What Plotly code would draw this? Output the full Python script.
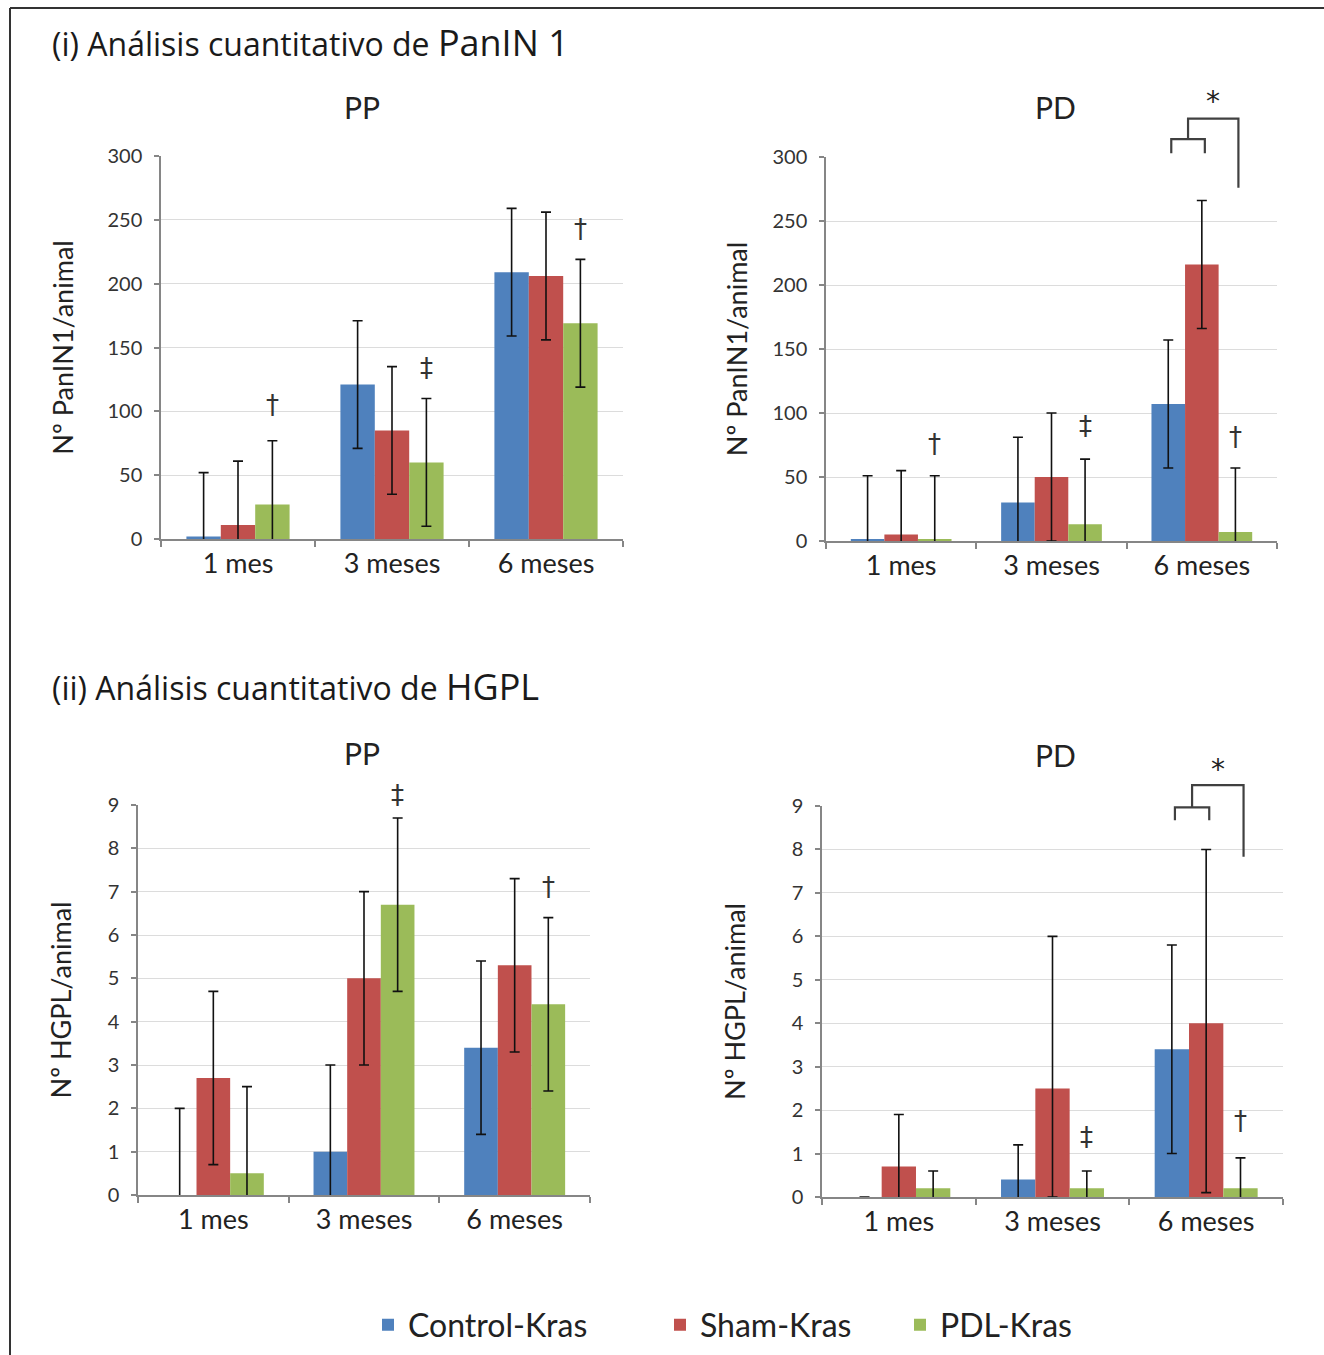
import plotly.graph_objects as go

W, H = 1324, 1355

categories = ["1 mes", "3 meses", "6 meses"]
series_names = ["Control-Kras", "Sham-Kras", "PDL-Kras"]
colors = ["#4F81BD", "#C0504D", "#9BBB59"]

# (i) PanIN 1 - PP
panin_pp = [[2, 121, 209], [11, 85, 206], [27, 60, 169]]
panin_pp_err = [[50, 50, 50], [50, 50, 50], [50, 50, 50]]
panin_pp_errm = [[50, 50, 50], [50, 50, 50], [50, 50, 50]]
# (i) PanIN 1 - PD
panin_pd = [[1, 30, 107], [5, 50, 216], [1, 13, 7]]
panin_pd_err = [[50, 51, 50], [50, 50, 50], [50, 51, 50]]
panin_pd_errm = [[50, 50, 50], [50, 50, 50], [50, 50, 50]]
# (ii) HGPL - PP
hgpl_pp = [[0, 1.0, 3.4], [2.7, 5.0, 5.3], [0.5, 6.7, 4.4]]
hgpl_pp_err = [[2, 2, 2], [2, 2, 2], [2, 2, 2]]
hgpl_pp_errm = [[2, 2, 2], [2, 2, 2], [2, 2, 2]]
# (ii) HGPL - PD  (None = no error bar shown)
hgpl_pd = [[0, 0.4, 3.4], [0.7, 2.5, 4.0], [0.2, 0.2, 0.2]]
hgpl_pd_err = [[None, 0.8, 2.4], [1.2, 3.5, 4.0], [0.4, 0.4, 0.7]]
hgpl_pd_errm = [[None, 0.8, 2.4], [1.2, 2.5, 3.9], [0.4, 0.4, 0.7]]

# significance marks: (category index, series index, y position, symbol)
marks_panin_pp = [(0, 2, 105, "†"), (1, 2, 134, "‡"), (2, 2, 243, "†")]
marks_panin_pd = [(0, 2, 76, "†"), (1, 2, 90, "‡"), (2, 2, 81, "†")]
marks_hgpl_pp = [(1, 2, 9.23, "‡"), (2, 2, 7.1, "†")]
marks_hgpl_pd = [(1, 2, 1.37, "‡"), (2, 2, 1.76, "†")]

# bracket levels (small bar, small legs, big bar, big right leg, star)
bracket_panin_pd = [314, 303, 330, 276, 343]
bracket_hgpl_pd = [8.97, 8.67, 9.48, 7.83, 9.85]

FONT = "Lato, 'Open Sans', sans-serif"
TXT = "#222222"
AX = "#333333"

panels = [
    dict(vals=panin_pp, err=panin_pp_err, errm=panin_pp_errm, xd=[161, 623], yd=[156, 539],
         rng=[0, 300], dt=50, ytitle="Nº PanIN1/animal", title="PP", tx=362, ty=107,
         marks=marks_panin_pp, br=None, so=26),
    dict(vals=panin_pd, err=panin_pd_err, errm=panin_pd_errm, xd=[826, 1277], yd=[157, 541],
         rng=[0, 300], dt=50, ytitle="Nº PanIN1/animal", title="PD", tx=1055, ty=107,
         marks=marks_panin_pd, br=bracket_panin_pd, so=17),
    dict(vals=hgpl_pp, err=hgpl_pp_err, errm=hgpl_pp_errm, xd=[138, 590], yd=[805, 1195],
         rng=[0, 9], dt=1, ytitle="Nº HGPL/animal", title="PP", tx=362, ty=753,
         marks=marks_hgpl_pp, br=None, so=28),
    dict(vals=hgpl_pd, err=hgpl_pd_err, errm=hgpl_pd_errm, xd=[822, 1283], yd=[806, 1197],
         rng=[0, 9], dt=1, ytitle="Nº HGPL/animal", title="PD", tx=1055, ty=755,
         marks=marks_hgpl_pd, br=bracket_hgpl_pd, so=38),
]

BARGAP = 0.33
bw = (1 - BARGAP) / 3  # width of one bar in category units
def xoff(s):
    return (s - 1) * bw

legend_ids = ["legend", "legend2", "legend3"]
legend_x = [368, 660, 900]

fig = go.Figure()
annotations = []
shapes = []

for i, p in enumerate(panels):
    n = "" if i == 0 else str(i + 1)
    xa, ya = "x" + n, "y" + n
    yd_ref = ya + " domain"
    r1 = p["rng"][1]
    for s in range(3):
        fig.add_trace(go.Bar(
            x=categories, y=p["vals"][s], name=series_names[s],
            marker=dict(color=colors[s], line=dict(width=0)),
            error_y=dict(type="data", array=p["err"][s], arrayminus=p["errm"][s], visible=True,
                         color="#111111", thickness=1.6, width=5),
            xaxis=xa, yaxis=ya, showlegend=(i == 0), legendgroup=series_names[s],
            legend=legend_ids[s],
        ))
    xkey = "xaxis" + n
    ykey = "yaxis" + n
    fig.layout[xkey] = dict(
        domain=[p["xd"][0] / W, p["xd"][1] / W], anchor=ya, type="category",
        tickson="boundaries", ticks="outside", ticklen=6, tickcolor="#868686", tickwidth=1.5,
        showline=True, linecolor="#868686", linewidth=1.5, showgrid=False,
        tickfont=dict(family=FONT, size=27, color=TXT), range=[-0.5, 2.5],
    )
    fig.layout[ykey] = dict(
        domain=[1 - p["yd"][1] / H, 1 - p["yd"][0] / H], anchor=xa, range=p["rng"], dtick=p["dt"],
        showline=True, linecolor="#868686", linewidth=1.5, ticks="outside", ticklen=5,
        tickcolor="#868686", tickwidth=1.5, showgrid=True, gridcolor="#dcdcdc", gridwidth=1,
        zeroline=False, tickfont=dict(family=FONT, size=20, color=AX), ticklabelstandoff=8,
        title=dict(text=p["ytitle"], font=dict(family=FONT, size=27, color=TXT), standoff=p["so"]),
    )
    # panel title
    annotations.append(dict(text=p["title"], x=p["tx"] / W, y=1 - p["ty"] / H,
                            xref="paper", yref="paper", showarrow=False,
                            font=dict(family=FONT, size=30, color=TXT), xanchor="center", yanchor="middle"))
    for (c, s, yv, sym) in p["marks"]:
        annotations.append(dict(text=sym, x=c + xoff(s), y=yv / r1, xref=xa, yref=yd_ref, showarrow=False,
                                font=dict(family="DejaVu Sans", size=26, color="#333333"),
                                xanchor="center", yanchor="middle"))
    if p["br"]:
        b = [v / r1 for v in p["br"]]
        c = 2
        x0 = c + xoff(0) + 0.02
        x1 = c + xoff(1) + 0.02
        xm = (x0 + x1) / 2
        x2 = c + xoff(2) + 0.02
        line = dict(color="#404040", width=2.2)
        path = f"M {x0} {b[1]} L {x0} {b[0]} L {x1} {b[0]} L {x1} {b[1]}"
        shapes.append(dict(type="path", path=path, xref=xa, yref=yd_ref, line=line))
        path2 = f"M {xm} {b[0]} L {xm} {b[2]} L {x2} {b[2]} L {x2} {b[3]}"
        shapes.append(dict(type="path", path=path2, xref=xa, yref=yd_ref, line=line))
        annotations.append(dict(text="*", x=(xm + x2) / 2, y=b[4], xref=xa, yref=yd_ref, showarrow=False,
                                font=dict(family="DejaVu Sans", size=28, color="#222222"),
                                xanchor="center", yanchor="middle"))

# section titles
annotations.append(dict(text="(i) Análisis cuantitativo de <span style='font-size:36px'>PanIN 1</span>",
                        x=50 / W, y=1 - 42 / H, xref="paper", yref="paper", showarrow=False,
                        font=dict(family="'Open Sans', sans-serif", size=32, color="#1a1a1a"),
                        xanchor="left", yanchor="middle"))
annotations.append(dict(text="(ii) Análisis cuantitativo de <span style='font-size:36px'>HGPL</span>",
                        x=50 / W, y=1 - 686 / H, xref="paper", yref="paper", showarrow=False,
                        font=dict(family="'Open Sans', sans-serif", size=32, color="#1a1a1a"),
                        xanchor="left", yanchor="middle"))

# frame lines (top and left)
shapes.append(dict(type="line", xref="paper", yref="paper", x0=10 / W, x1=1, y0=1 - 8 / H, y1=1 - 8 / H,
                   line=dict(color="#333333", width=2)))
shapes.append(dict(type="line", xref="paper", yref="paper", x0=10 / W, x1=10 / W, y0=0, y1=1 - 8 / H,
                   line=dict(color="#333333", width=2)))

legend_common = dict(orientation="h", y=1 - 1325 / H, xanchor="left", yanchor="middle",
                     font=dict(family=FONT, size=32, color=TXT), bgcolor="rgba(0,0,0,0)")
fig.update_layout(
    width=W, height=H, margin=dict(l=0, r=0, t=0, b=0, autoexpand=False),
    paper_bgcolor="white", plot_bgcolor="white",
    barmode="group", bargap=BARGAP, bargroupgap=0,
    annotations=annotations, shapes=shapes,
    legend=dict(x=legend_x[0] / W, **legend_common),
    legend2=dict(x=legend_x[1] / W, **legend_common),
    legend3=dict(x=legend_x[2] / W, **legend_common),
)

fig.write_html("out.html", config={"displayModeBar": False},
               post_script="document.body.style.margin='0';document.body.style.overflow='hidden';")
